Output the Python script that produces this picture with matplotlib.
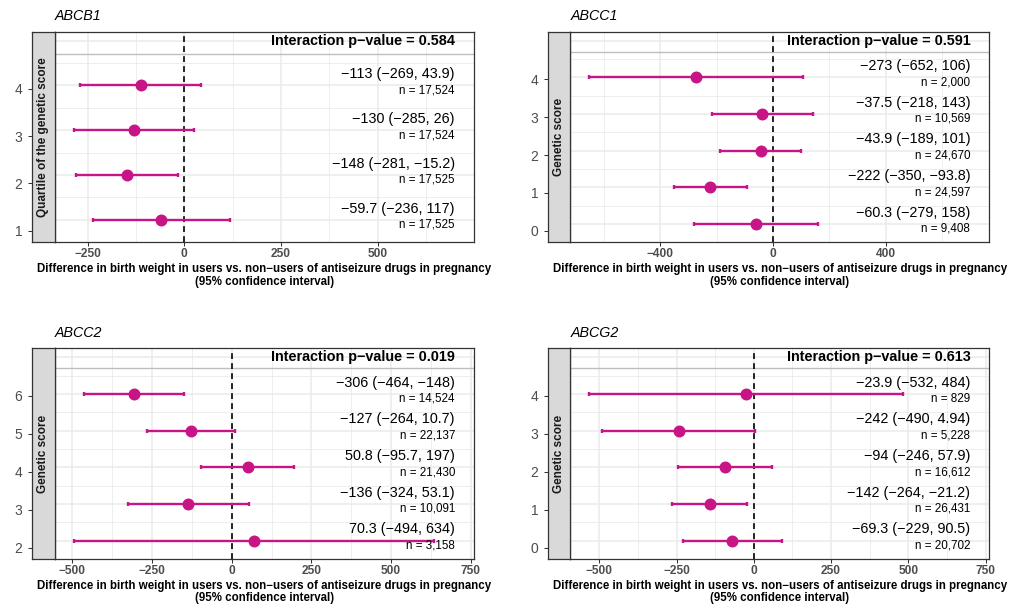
import matplotlib
matplotlib.use("Agg")
import matplotlib.pyplot as plt
from matplotlib.ticker import MultipleLocator

plt.rcParams['font.family'] = ['Liberation Sans', 'DejaVu Sans']

# data
genes = ["ABCB1", "ABCC1", "ABCC2", "ABCG2"]
strip_labels = ["Quartile of the genetic score", "Genetic score", "Genetic score", "Genetic score"]
p_values = ["0.584", "0.591", "0.019", "0.613"]

levels = [
    [1, 2, 3, 4],
    [0, 1, 2, 3, 4],
    [2, 3, 4, 5, 6],
    [0, 1, 2, 3, 4],
]
estimates = [
    [-59.7, -148, -130, -113],
    [-60.3, -222, -43.9, -37.5, -273],
    [70.3, -136, 50.8, -127, -306],
    [-69.3, -142, -94, -242, -23.9],
]
lower = [
    [-236, -281, -285, -269],
    [-279, -350, -189, -218, -652],
    [-494, -324, -95.7, -264, -464],
    [-229, -264, -246, -490, -532],
]
upper = [
    [117, -15.2, 26, 43.9],
    [158, -93.8, 101, 143, 106],
    [634, 53.1, 197, 10.7, -148],
    [90.5, -21.2, 57.9, 4.94, 484],
]
n_obs = [
    [17525, 17525, 17524, 17524],
    [9408, 24597, 24670, 10569, 2000],
    [3158, 10091, 21430, 22137, 14524],
    [20702, 26431, 16612, 5228, 829],
]
x_steps = [250, 400, 250, 250]
label_x = 700  # labels are right aligned at this x value

COL = "#C71585"
W, H = 1012, 604
DARK = "#333333"
GREY30 = "#4D4D4D"

xlab = "Difference in birth weight in users vs. non\u2212users of antiseizure drugs in pregnancy\n(95% confidence interval)"

# pixel boxes: (strip_left, data_left, right, top, bottom)
boxes = [
    (31.7, 55.0, 474.0, 31.7, 242.3),
    (547.7, 570.3, 989.3, 31.7, 242.3),
    (31.7, 55.0, 474.0, 348.3, 559.0),
    (547.7, 570.3, 989.3, 348.3, 559.0),
]


def frac(x0, x1, y0, y1):
    return [x0 / W, 1 - y1 / H, (x1 - x0) / W, (y1 - y0) / H]


def fmt(v):
    return "{:.3g}".format(v).replace("-", "\u2212")


fig = plt.figure(figsize=(W / 100, H / 100), dpi=100)

for i in range(4):
    sl, dl, r, t, b = boxes[i]
    lev = levels[i]
    top_lev = max(lev) + 1
    span = top_lev - min(lev)
    ylo = min(lev) - 0.06 * span
    yhi = top_lev + 0.05 * span
    xlo = min(lower[i])
    xpad = 0.05 * (label_x - xlo)

    ax = fig.add_axes(frac(dl, r, t, b))
    sax = fig.add_axes(frac(sl, dl, t, b))

    # main panel
    ax.set_xlim(xlo - xpad, label_x + xpad)
    ax.set_ylim(ylo, yhi)
    ax.xaxis.set_major_locator(MultipleLocator(x_steps[i]))
    ax.xaxis.set_minor_locator(MultipleLocator(x_steps[i] / 2))
    ax.set_yticks(lev + [top_lev])
    ax.set_yticks([v + 0.5 for v in [min(lev) - 1] + lev], minor=True)
    ax.grid(which="major", color="#EBEBEB", lw=1.1, zorder=0)
    ax.grid(which="minor", color="#EBEBEB", lw=0.6, zorder=0)
    ax.set_axisbelow(True)
    ax.tick_params(axis="y", which="both", length=0, labelleft=False)
    ax.tick_params(axis="x", which="minor", length=0)
    ax.tick_params(axis="x", which="major", length=2.75, width=0.75, color=DARK,
                   pad=1.5, labelsize=8.6, labelcolor=GREY30)
    for lab in ax.get_xticklabels():
        lab.set_fontweight("bold")
    for s in ax.spines.values():
        s.set_color(DARK)
        s.set_linewidth(0.9)

    ax.axhline(max(lev) + 0.7, color="#BEBEBE", lw=1.0, zorder=1)
    ax.axvline(0, color="black", lw=1.2, ls=(0, (3.5, 2.5)), zorder=2)

    ax.errorbar(estimates[i], lev,
                xerr=[[e - l for e, l in zip(estimates[i], lower[i])],
                      [u - e for e, u in zip(estimates[i], upper[i])]],
                fmt="o", color=COL, ms=7.6, elinewidth=1.7, capsize=1.5,
                capthick=1.7, zorder=3)

    for y, e, l, u, n in zip(lev, estimates[i], lower[i], upper[i], n_obs[i]):
        ax.annotate("{} ({}, {})".format(fmt(e), fmt(l), fmt(u)), (label_x, y),
                    xytext=(0, 8.1), textcoords="offset points",
                    ha="right", va="center", fontsize=10.4, color="black", zorder=4)
        ax.annotate("n = {:,}".format(n), (label_x, y),
                    xytext=(0, -3.5), textcoords="offset points",
                    ha="right", va="center", fontsize=8.4, color="black", zorder=4)

    ax.text(label_x, top_lev, "Interaction p\u2212value = " + p_values[i],
            ha="right", va="center", fontsize=10.4, fontweight="bold", zorder=4)

    # strip with y tick labels on its left
    sax.set_facecolor("#D9D9D9")
    sax.set_ylim(ylo, yhi)
    sax.set_xticks([])
    sax.set_yticks(lev)
    sax.set_yticklabels([str(v) for v in lev])
    sax.tick_params(axis="y", length=2.75, width=0.75, color=DARK, pad=4,
                    labelsize=10, labelcolor=GREY30)
    for s in sax.spines.values():
        s.set_color(DARK)
        s.set_linewidth(0.9)
    sax.text(0.5, 0.5, strip_labels[i], transform=sax.transAxes, rotation=90,
             ha="center", va="center", fontsize=8.5, fontweight="bold", color="#1A1A1A")

    # title and x label
    fig.text(dl / W, 1 - (t - 15.7) / H, genes[i], ha="left", va="center",
             fontsize=10.3, style="italic")
    fig.text((dl + r) / 2 / W, 1 - (b + 21) / H, xlab, ha="center", va="top",
             fontsize=8.3, fontweight="bold", linespacing=1.05)

fig.savefig("out.png", dpi=100)
